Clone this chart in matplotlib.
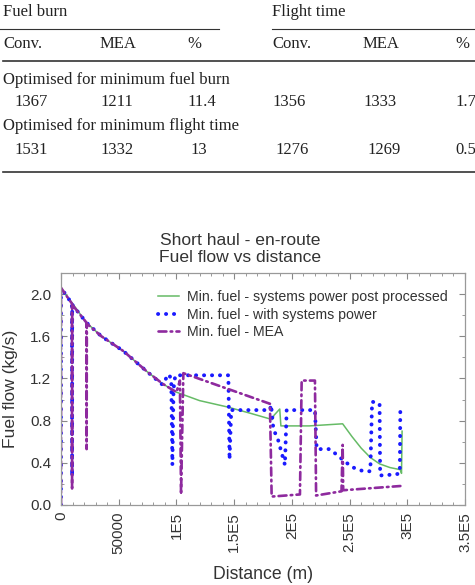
import matplotlib
matplotlib.use('Agg')
import matplotlib.pyplot as plt
from matplotlib.lines import Line2D
from matplotlib.ticker import MultipleLocator, FixedLocator

W, H = 475, 585

# ---- table data ----
group_labels = ['Fuel burn', 'Flight time']
col_labels = ['Conv.', 'MEA', '%', 'Conv.', 'MEA', '%']
section_labels = ['Optimised for minimum fuel burn',
                  'Optimised for minimum flight time']
row_fuel = ['1367', '1211', '11.4', '1356', '1333', '1.7']
row_time = ['1531', '1332', '13', '1276', '1269', '0.5']

# ---- chart data ----
green_x = [0, 5000, 10000, 22000, 35000, 54000, 74000, 88000, 100000, 120000,
           144000, 164000, 183000, 184500, 189500, 190500, 215000, 244000,
           252000, 260000, 268000, 276000, 285000, 294000, 295000, 295500]
green_y = [2.06, 1.98, 1.91, 1.73, 1.60, 1.46, 1.27, 1.15, 1.07, 0.99,
           0.93, 0.87, 0.81, 0.85, 0.91, 0.75, 0.75, 0.77,
           0.65, 0.54, 0.45, 0.39, 0.355, 0.335, 0.30, 0.70]

blue_x = [0, 0, 5000, 9500, 9600, 9700, 22000, 35000, 54000, 74000, 88000,
          93000, 95500, 96500, 97500, 99000, 145000, 146000, 147500, 181000,
          182000, 184000, 188000, 194000, 195500, 220000, 221500, 233000,
          244000, 252000, 262000, 268000, 269500, 276000, 276500, 290000,
          293500, 294000]
blue_y = [0.0, 2.06, 1.98, 1.91, 0.27, 1.90, 1.73, 1.60, 1.46, 1.27, 1.14,
          1.24, 1.20, 0.38, 1.10, 1.23, 1.23, 0.43, 0.90, 0.90,
          0.95, 0.72, 0.62, 0.38, 0.90, 0.90, 0.53, 0.53,
          0.43, 0.36, 0.32, 0.32, 0.98, 0.96, 0.28, 0.29,
          0.30, 0.94]

mea_x = [0, 0, 5000, 9500, 9600, 9700, 22000, 22200, 22400, 35000, 54000,
         74000, 88000, 100000, 103000, 104000, 106000, 181000, 182500, 207000,
         208500, 220000, 221000, 243000, 244000, 244500, 294000]
mea_y = [0.0, 2.06, 1.98, 1.91, 0.14, 1.90, 1.73, 0.53, 1.72, 1.60, 1.46,
         1.27, 1.15, 1.07, 1.18, 0.10, 1.25, 0.96, 0.08, 0.10,
         1.18, 1.18, 0.09, 0.13, 0.57, 0.14, 0.18]

x_ticks = [0, 50000, 100000, 150000, 200000, 250000, 300000, 350000]
x_tick_labels = ['0', '50000', '1E5', '1.5E5', '2E5', '2.5E5', '3E5', '3.5E5']
y_ticks = [0.0, 0.4, 0.8, 1.2, 1.6, 2.0]


def fx(px):
    return px / W


def fy(py):
    return 1 - py / H


fig = plt.figure(figsize=(W / 100, H / 100), dpi=100)

# table drawn straight on the figure
serif = dict(family='Liberation Serif', fontsize=12, color='#222222',
             va='center', ha='left')
fig.text(fx(3), fy(12), group_labels[0], **serif)
fig.text(fx(272), fy(12), group_labels[1], **serif)
col_x = [3, 100, 187, 272, 363, 455]
for x, lab in zip(col_x, col_labels):
    fig.text(fx(x), fy(44), lab, **serif)
fig.text(fx(3), fy(80), section_labels[0], **serif)
fig.text(fx(3), fy(126), section_labels[1], **serif)
num_x = [14, 100, 187, 272, 363, 455]
for x, v in zip(num_x, row_fuel):
    fig.text(fx(x), fy(102), v, **serif)
num_x2 = [14, 100, 190, 275, 367, 455]
for x, v in zip(num_x2, row_time):
    fig.text(fx(x), fy(150), v, **serif)

fig.add_artist(Line2D([fx(0), fx(219)], [fy(28.5), fy(28.5)], color='#333333', lw=0.8))
fig.add_artist(Line2D([fx(272), fx(475)], [fy(28.5), fy(28.5)], color='#333333', lw=0.8))
fig.add_artist(Line2D([fx(3), fx(475)], [fy(60.5), fy(60.5)], color='#333333', lw=1.2))
fig.add_artist(Line2D([fx(3), fx(475)], [fy(172), fy(172)], color='#333333', lw=1.2))

# chart
ax = fig.add_axes([fx(61), fy(505), fx(465) - fx(61), fy(273) - fy(505)])
sans = 'Liberation Sans'

ax.plot(green_x, green_y, color='#66bb66', lw=1.1,
        label='Min. fuel - systems power post processed')
ax.plot(blue_x, blue_y, color='#1a1aff', lw=2.8, linestyle=(0, (0.05, 2.0)),
        dash_capstyle='round', label='Min. fuel - with systems power')
ax.plot(mea_x, mea_y, color='#8e2a9e', lw=1.9, linestyle=(0, (3, 1.6, 0.6, 1.6)),
        dash_capstyle='round', label='Min. fuel - MEA')

ax.set_xlim(0, 350000)
ax.set_ylim(0, 2.2)
ax.xaxis.set_major_locator(FixedLocator(x_ticks))
ax.set_xticklabels(x_tick_labels, rotation=90, fontsize=11, family=sans,
                   color='#333333')
ax.xaxis.set_minor_locator(MultipleLocator(10000))
ax.set_yticks(y_ticks)
ax.set_yticklabels(['%.1f' % v for v in y_ticks], fontsize=11, family=sans,
                   color='#333333')
ax.yaxis.set_minor_locator(MultipleLocator(0.2))
ax.tick_params(which='both', direction='in', top=True, right=True,
               color='#888888')
ax.tick_params(which='major', length=4)
ax.tick_params(axis='y', which='major', pad=7)
ax.tick_params(axis='x', which='major', pad=5)
ax.tick_params(which='minor', length=2)
for s in ax.spines.values():
    s.set_color('#999999')
    s.set_linewidth(0.9)

ax.set_xlabel('Distance (m)', fontsize=12.7, family=sans, color='#333333', labelpad=8)
ax.set_ylabel('Fuel flow (kg/s)', fontsize=12.6, family=sans, color='#333333', labelpad=9)

fig.text(fx(240), fy(249), 'Short haul - en-route\nFuel flow vs distance',
         ha='center', va='center', fontsize=12.6, family=sans, color='#333333',
         linespacing=1.12)

leg = ax.legend(loc='upper right', frameon=False,
                prop={'family': sans, 'size': 10.2}, handlelength=1.45,
                borderaxespad=0.8, labelspacing=0.25, handletextpad=0.6)
for t in leg.get_texts():
    t.set_color('#333333')

fig.savefig('out.png', dpi=100)
plt.close('all')
